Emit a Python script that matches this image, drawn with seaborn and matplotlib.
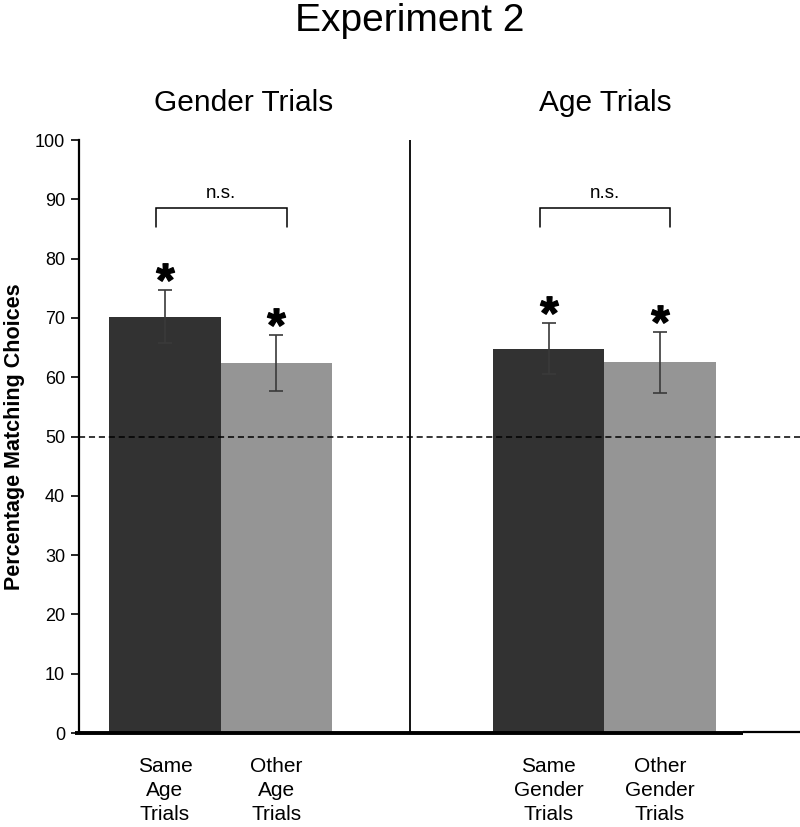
import matplotlib
matplotlib.use("Agg")
import matplotlib.pyplot as plt
import seaborn as sns
import pandas as pd

# ---- data ----
conditions = ["Same Age Trials", "Other Age Trials", "Same Gender Trials", "Other Gender Trials"]
tick_labels = ["Same\nAge\nTrials", "Other\nAge\nTrials", "Same\nGender\nTrials", "Other\nGender\nTrials"]
positions = [0.0, 1.0, 3.44, 4.44]
kind = ["Same", "Other", "Same", "Other"]
means = [70.2, 62.4, 64.8, 62.5]
errors = [4.5, 4.8, 4.3, 5.1]
group_titles = ["Gender Trials", "Age Trials"]
chance = 50

sns.set_theme(style="white")
plt.rcParams["font.family"] = ["Liberation Sans", "DejaVu Sans"]
plt.rcParams["mathtext.fontset"] = "custom"
plt.rcParams["mathtext.bf"] = "Liberation Sans:bold"
plt.rcParams["mathtext.rm"] = "Liberation Sans"
for k in ["text.color", "axes.labelcolor", "xtick.color", "ytick.color"]:
    plt.rcParams[k] = "black"

df = pd.DataFrame({"pos": positions, "mean": means, "kind": kind, "cond": conditions})

W, H = 800, 827
fig = plt.figure(figsize=(W / 100, H / 100), dpi=100)
ax = fig.add_axes([79 / W, 1 - 733 / H, (800 - 79) / W, (733 - 140) / H])

sns.barplot(data=df, x="pos", y="mean", hue="kind", native_scale=True,
            palette={"Same": "#323232", "Other": "#959595"}, width=1.0,
            dodge=False, errorbar=None, legend=False, ax=ax, linewidth=0,
            saturation=1)

ax.errorbar(positions, means, yerr=errors, fmt="none", ecolor="#3a3a3a",
            elinewidth=1.2, capsize=5, capthick=1.2, zorder=3)

# significance stars
star_y = [m + e + 3 for m, e in zip(means, errors)]
ax.plot(positions, star_y, linestyle="none", marker=r"$\mathbf{*}$",
        markersize=13, color="black", zorder=4)

# n.s. brackets
for a, b in [(0, 1), (2, 3)]:
    x0 = positions[a] - 0.08
    x1 = positions[b] + 0.09
    ax.plot([x0, x0, x1, x1], [85.3, 88.6, 88.6, 85.3], color="black", lw=1.1,
            solid_joinstyle="miter", zorder=4)
    ax.text((x0 + x1) / 2, 89.6, "n.s.", ha="center", va="bottom", fontsize=13.5)

# chance line and divider
ax.axhline(chance, color="black", lw=1.1, dashes=(4, 2.5), zorder=5)
ax.axvline(2.197, color="black", lw=1.3, zorder=5)

ax.set_xlim(-0.771, 5.695)
ax.set_ylim(0, 100)
ax.set_yticks(range(0, 101, 10))
ax.set_xticks(positions)
ax.set_xticklabels(tick_labels, fontsize=15, linespacing=1.33)
ax.tick_params(axis="x", length=0, pad=17)
ax.tick_params(axis="y", direction="out", length=6, width=1.2, color="black",
               labelsize=13, pad=4, left=True)
ax.set_xlabel("")
ax.set_ylabel("")

for s in ["top", "right", "bottom"]:
    ax.spines[s].set_visible(False)
ax.spines["left"].set_linewidth(1.6)
ax.spines["left"].set_color("black")

# bottom baseline
ax.plot([-0.0055, 0.921], [0, 0], transform=ax.transAxes, color="black", lw=2.8,
        clip_on=False, solid_capstyle="butt", zorder=6)
ax.plot([0.921, 1.0], [0.002, 0.002], transform=ax.transAxes, color="black", lw=1.6,
        clip_on=False, solid_capstyle="butt", zorder=6)

fig.text(15 / W, 1 - 437 / H, "Percentage Matching Choices", rotation=90,
         ha="center", va="center", fontsize=15.5, fontweight="bold")
fig.text(410 / W, 1 - 21 / H, "Experiment 2", ha="center", va="center", fontsize=28)
fig.text(244 / W, 1 - 103 / H, group_titles[0], ha="center", va="center", fontsize=21.5)
fig.text(605 / W, 1 - 103 / H, group_titles[1], ha="center", va="center", fontsize=21.5)

fig.savefig("out.png", dpi=100)
